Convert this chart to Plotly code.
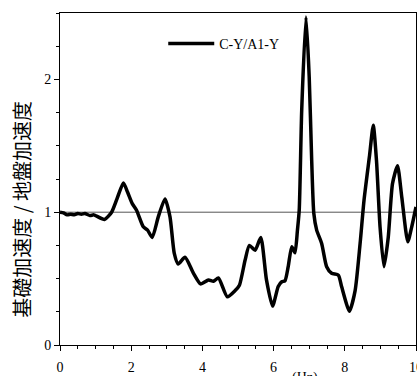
import plotly.graph_objects as go

freq = [0.0, 0.1, 0.2, 0.3, 0.4, 0.5, 0.6, 0.7, 0.84, 0.95, 1.03, 1.25, 1.45, 1.6, 1.78,
        1.9, 2.03, 2.15, 2.34, 2.46, 2.59, 2.76, 2.95, 3.09, 3.21, 3.32, 3.51, 3.75, 3.95,
        4.17, 4.31, 4.45, 4.70, 4.92, 5.04, 5.20, 5.32, 5.48, 5.64, 5.80, 5.97, 6.13, 6.23,
        6.32, 6.41, 6.51, 6.60, 6.67, 6.72, 6.79, 6.91, 7.00, 7.07, 7.13, 7.21, 7.35, 7.49,
        7.63, 7.82, 7.91, 8.13, 8.29, 8.43, 8.54, 8.69, 8.80, 8.89, 8.99, 9.10, 9.22, 9.34,
        9.48, 9.60, 9.77, 9.88, 10.0]
ratio = [1.0, 0.995, 0.98, 0.985, 0.98, 0.99, 0.985, 0.99, 0.975, 0.98, 0.97, 0.945, 1.0, 1.1, 1.22,
         1.15, 1.065, 1.015, 0.89, 0.865, 0.81, 0.965, 1.10, 0.965, 0.69, 0.61, 0.66, 0.54, 0.46,
         0.49, 0.48, 0.505, 0.363, 0.41, 0.45, 0.64, 0.75, 0.714, 0.81, 0.49, 0.293, 0.44, 0.476,
         0.484, 0.59, 0.74, 0.694, 0.865, 1.015, 1.77, 2.47, 2.02, 1.39, 0.99, 0.865, 0.765, 0.59,
         0.54, 0.526, 0.44, 0.255, 0.41, 0.765, 1.09, 1.415, 1.654, 1.39, 0.89, 0.59, 0.81, 1.215,
         1.35, 1.115, 0.777, 0.89, 1.04]

series_name = "C-Y/A1-Y"
y_title = "基礎加速度 / 地盤加速度"
x_unit = "(Hz)"
ref_level = 1.0

serif = "Liberation Serif, Times New Roman, serif"

fig = go.Figure()
fig.add_trace(go.Scatter(
    x=freq, y=ratio, mode="lines", name=series_name,
    line=dict(color="black", width=3.5, shape="spline", smoothing=0.6),
    showlegend=True,
))

fig.add_hline(y=ref_level, line=dict(color="#555555", width=1), layer="below")

axis_common = dict(
    showline=True, linecolor="black", linewidth=1, mirror=True,
    showgrid=False, zeroline=False, ticks="outside", ticklen=5, tickcolor="black",
    tickfont=dict(family=serif, size=14, color="black"), automargin=False,
    ticklabeloverflow="allow",
)

fig.update_xaxes(range=[0, 10], tickvals=[0, 2, 4, 6, 8, 10], ticklabelstandoff=4,
                 minor=dict(dtick=0.5, ticks="outside", ticklen=3, tickcolor="black"),
                 **axis_common)
fig.update_yaxes(range=[0, 2.5], tickvals=[0, 1, 2],
                 minor=dict(dtick=0.25, ticks="outside", ticklen=3, tickcolor="black"),
                 **axis_common)

fig.add_annotation(text=y_title, xref="paper", yref="paper", x=-0.107, y=0.41,
                   textangle=-90, showarrow=False, xanchor="center", yanchor="middle",
                   font=dict(family="Noto Sans CJK JP", size=20, color="black"))
fig.add_annotation(text=x_unit, xref="paper", yref="paper", x=0.688, y=-0.1,
                   showarrow=False, xanchor="center", yanchor="middle",
                   font=dict(family=serif, size=14, color="black"))

fig.update_layout(
    width=417, height=376,
    margin=dict(l=60, r=1, t=13, b=31, autoexpand=False),
    paper_bgcolor="white", plot_bgcolor="white",
    legend=dict(x=0.29, y=0.907, xanchor="left", yanchor="middle",
                font=dict(family=serif, size=14, color="black"),
                bgcolor="rgba(0,0,0,0)", itemwidth=46),
)

# remove the browser's default page margin so the figure starts at the window corner
fig.write_html(
    "out.html",
    config={"displayModeBar": False},
    post_script="document.body.style.margin='0';document.body.style.overflow='hidden';",
)
